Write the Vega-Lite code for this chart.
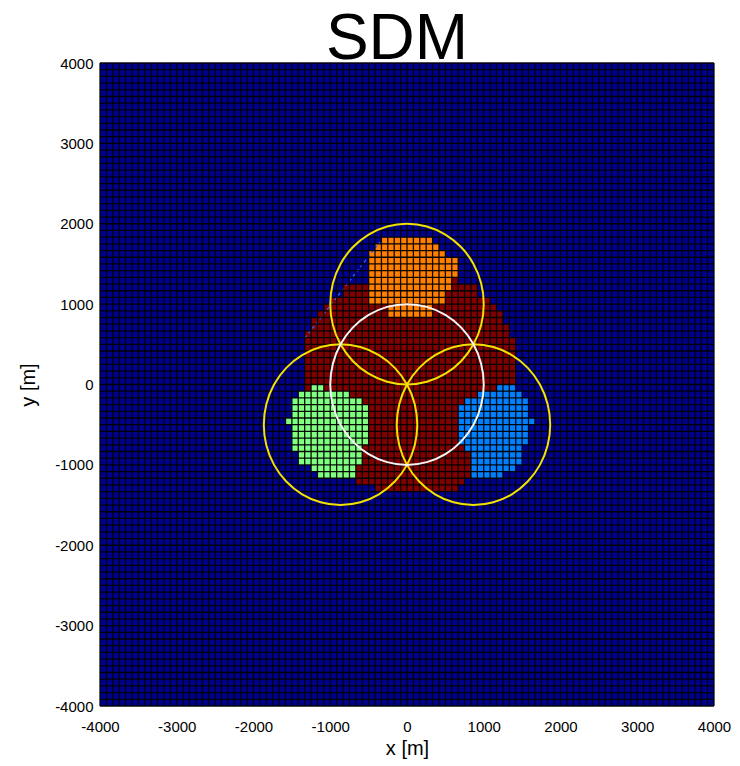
{
  "$schema": "https://vega.github.io/schema/vega-lite/v6.json",
  "width": 614,
  "height": 643,
  "autosize": {"type": "none"},
  "padding": {"left": 100, "top": 63, "right": 26, "bottom": 60},
  "background": "#ffffff",
  "title": {"text": "SDM", "fontSize": 64, "font": "Liberation Sans", "fontWeight": "normal", "color": "#000000", "anchor": "middle", "frame": "group", "offset": -16, "dx": -10},
  "config": {
    "view": {"fill": "#00008f", "stroke": null},
    "font": "Liberation Sans",
    "axisX": {
      "tickCount": 8, "labelExpr": "'' + datum.value",
      "grid": false, "ticks": false, "domain": false,
      "labelOverlap": false, "labelFlush": false,
      "labelFont": "Liberation Sans", "labelFontSize": 15, "labelColor": "#000000", "labelPadding": 13,
      "titleFont": "Liberation Sans", "titleFontSize": 20, "titleFontWeight": "normal", "titleColor": "#000000", "titlePadding": 4
    },
    "axisY": {
      "tickCount": 8, "labelExpr": "'' + datum.value",
      "grid": false, "ticks": false, "domain": false,
      "labelOverlap": false, "labelFlush": false,
      "labelFont": "Liberation Sans", "labelFontSize": 15, "labelColor": "#000000", "labelPadding": 7,
      "titleFont": "Liberation Sans", "titleFontSize": 20, "titleFontWeight": "normal", "titleColor": "#000000", "titlePadding": 16
    }
  },
  "datasets": {
    "edges": [
      {"v":-4000},{"v":-3916.67},{"v":-3833.33},{"v":-3750},{"v":-3666.67},{"v":-3583.33},{"v":-3500},{"v":-3416.67},{"v":-3333.33},{"v":-3250},{"v":-3166.67},{"v":-3083.33},{"v":-3000},{"v":-2916.67},{"v":-2833.33},{"v":-2750},{"v":-2666.67},{"v":-2583.33},{"v":-2500},{"v":-2416.67},{"v":-2333.33},{"v":-2250},{"v":-2166.67},{"v":-2083.33},{"v":-2000},{"v":-1916.67},{"v":-1833.33},{"v":-1750},{"v":-1666.67},{"v":-1583.33},{"v":-1500},{"v":-1416.67},{"v":-1333.33},{"v":-1250},{"v":-1166.67},{"v":-1083.33},{"v":-1000},{"v":-916.67},{"v":-833.33},{"v":-750},{"v":-666.67},{"v":-583.33},{"v":-500},{"v":-416.67},{"v":-333.33},{"v":-250},{"v":-166.67},{"v":-83.33},{"v":0},{"v":83.33},{"v":166.67},{"v":250},{"v":333.33},{"v":416.67},{"v":500},{"v":583.33},{"v":666.67},{"v":750},{"v":833.33},{"v":916.67},{"v":1000},{"v":1083.33},{"v":1166.67},{"v":1250},{"v":1333.33},{"v":1416.67},{"v":1500},{"v":1583.33},{"v":1666.67},{"v":1750},{"v":1833.33},{"v":1916.67},{"v":2000},{"v":2083.33},{"v":2166.67},{"v":2250},{"v":2333.33},{"v":2416.67},{"v":2500},{"v":2583.33},{"v":2666.67},{"v":2750},{"v":2833.33},{"v":2916.67},{"v":3000},{"v":3083.33},{"v":3166.67},{"v":3250},{"v":3333.33},{"v":3416.67},{"v":3500},{"v":3583.33},{"v":3666.67},{"v":3750},{"v":3833.33},{"v":3916.67},{"v":4000}
    ],
    "cells": [
      {"c":"core","x":-500,"x2":666.67,"y":1250,"y2":1333.33},
      {"c":"core","x":-833.33,"x2":916.67,"y":1083.33,"y2":1250},
      {"c":"core","x":-1000,"x2":1083.33,"y":1000,"y2":1083.33},
      {"c":"core","x":-1083.33,"x2":1166.67,"y":916.67,"y2":1000},
      {"c":"core","x":-1166.67,"x2":1250,"y":833.33,"y2":916.67},
      {"c":"core","x":-1250,"x2":1250,"y":750,"y2":833.33},
      {"c":"core","x":-1250,"x2":1333.33,"y":666.67,"y2":750},
      {"c":"core","x":-1333.33,"x2":1333.33,"y":583.33,"y2":666.67},
      {"c":"core","x":-1333.33,"x2":1416.67,"y":-750,"y2":583.33},
      {"c":"core","x":-1333.33,"x2":916.67,"y":-1000,"y2":-750},
      {"c":"core","x":-1250,"x2":916.67,"y":-1083.33,"y2":-1000},
      {"c":"core","x":-1166.67,"x2":916.67,"y":-1166.67,"y2":-1083.33},
      {"c":"core","x":-666.67,"x2":750,"y":-1250,"y2":-1166.67},
      {"c":"core","x":-416.67,"x2":666.67,"y":-1333.33,"y2":-1250},
      {"c":"n","x":-333.33,"x2":333.33,"y":1750,"y2":1833.33},
      {"c":"n","x":-416.67,"x2":416.67,"y":1666.67,"y2":1750},
      {"c":"n","x":-500,"x2":500,"y":1583.33,"y2":1666.67},
      {"c":"n","x":-500,"x2":666.67,"y":1333.33,"y2":1583.33},
      {"c":"n","x":-500,"x2":583.33,"y":1166.67,"y2":1333.33},
      {"c":"n","x":-500,"x2":500,"y":1000,"y2":1166.67},
      {"c":"n","x":-250,"x2":333.33,"y":833.33,"y2":1000},
      {"c":"sw","x":-1250,"x2":-1083.33,"y":-83.33,"y2":0},
      {"c":"sw","x":-1416.67,"x2":-750,"y":-166.67,"y2":-83.33},
      {"c":"sw","x":-1500,"x2":-583.33,"y":-250,"y2":-166.67},
      {"c":"sw","x":-1500,"x2":-500,"y":-416.67,"y2":-250},
      {"c":"sw","x":-1583.33,"x2":-500,"y":-500,"y2":-416.67},
      {"c":"sw","x":-1500,"x2":-500,"y":-750,"y2":-500},
      {"c":"sw","x":-1500,"x2":-583.33,"y":-833.33,"y2":-750},
      {"c":"sw","x":-1416.67,"x2":-583.33,"y":-1000,"y2":-833.33},
      {"c":"sw","x":-1250,"x2":-666.67,"y":-1083.33,"y2":-1000},
      {"c":"sw","x":-1166.67,"x2":-666.67,"y":-1166.67,"y2":-1083.33},
      {"c":"se","x":1166.67,"x2":1416.67,"y":-83.33,"y2":0},
      {"c":"se","x":916.67,"x2":1500,"y":-166.67,"y2":-83.33},
      {"c":"se","x":750,"x2":1583.33,"y":-250,"y2":-166.67},
      {"c":"se","x":666.67,"x2":1583.33,"y":-416.67,"y2":-250},
      {"c":"se","x":666.67,"x2":1666.67,"y":-500,"y2":-416.67},
      {"c":"se","x":666.67,"x2":1583.33,"y":-750,"y2":-500},
      {"c":"se","x":750,"x2":1500,"y":-833.33,"y2":-750},
      {"c":"se","x":833.33,"x2":1500,"y":-1000,"y2":-833.33},
      {"c":"se","x":833.33,"x2":1416.67,"y":-1083.33,"y2":-1000},
      {"c":"se","x":833.33,"x2":1250,"y":-1166.67,"y2":-1083.33}
    ],
    "trace": [
      {"k":0,"x":-1329,"y":579},
      {"k":1,"x":-352,"y":1773}
    ],
    "rings": [
      {"id":"A","kind":"zone","k":0,"x":1000,"y":1000},
      {"id":"A","kind":"zone","k":1,"x":965.9,"y":1258.8},
      {"id":"A","kind":"zone","k":2,"x":866,"y":1500},
      {"id":"A","kind":"zone","k":3,"x":707.1,"y":1707.1},
      {"id":"A","kind":"zone","k":4,"x":500,"y":1866},
      {"id":"A","kind":"zone","k":5,"x":258.8,"y":1965.9},
      {"id":"A","kind":"zone","k":6,"x":0,"y":2000},
      {"id":"A","kind":"zone","k":7,"x":-258.8,"y":1965.9},
      {"id":"A","kind":"zone","k":8,"x":-500,"y":1866},
      {"id":"A","kind":"zone","k":9,"x":-707.1,"y":1707.1},
      {"id":"A","kind":"zone","k":10,"x":-866,"y":1500},
      {"id":"A","kind":"zone","k":11,"x":-965.9,"y":1258.8},
      {"id":"A","kind":"zone","k":12,"x":-1000,"y":1000},
      {"id":"A","kind":"zone","k":13,"x":-965.9,"y":741.2},
      {"id":"A","kind":"zone","k":14,"x":-866,"y":500},
      {"id":"A","kind":"zone","k":15,"x":-707.1,"y":292.9},
      {"id":"A","kind":"zone","k":16,"x":-500,"y":134},
      {"id":"A","kind":"zone","k":17,"x":-258.8,"y":34.1},
      {"id":"A","kind":"zone","k":18,"x":0,"y":0},
      {"id":"A","kind":"zone","k":19,"x":258.8,"y":34.1},
      {"id":"A","kind":"zone","k":20,"x":500,"y":134},
      {"id":"A","kind":"zone","k":21,"x":707.1,"y":292.9},
      {"id":"A","kind":"zone","k":22,"x":866,"y":500},
      {"id":"A","kind":"zone","k":23,"x":965.9,"y":741.2},
      {"id":"B","kind":"zone","k":0,"x":134,"y":-500},
      {"id":"B","kind":"zone","k":1,"x":99.9,"y":-241.2},
      {"id":"B","kind":"zone","k":2,"x":0,"y":0},
      {"id":"B","kind":"zone","k":3,"x":-158.9,"y":207.1},
      {"id":"B","kind":"zone","k":4,"x":-366,"y":366},
      {"id":"B","kind":"zone","k":5,"x":-607.2,"y":465.9},
      {"id":"B","kind":"zone","k":6,"x":-866,"y":500},
      {"id":"B","kind":"zone","k":7,"x":-1124.8,"y":465.9},
      {"id":"B","kind":"zone","k":8,"x":-1366,"y":366},
      {"id":"B","kind":"zone","k":9,"x":-1573.1,"y":207.1},
      {"id":"B","kind":"zone","k":10,"x":-1732,"y":0},
      {"id":"B","kind":"zone","k":11,"x":-1831.9,"y":-241.2},
      {"id":"B","kind":"zone","k":12,"x":-1866,"y":-500},
      {"id":"B","kind":"zone","k":13,"x":-1831.9,"y":-758.8},
      {"id":"B","kind":"zone","k":14,"x":-1732,"y":-1000},
      {"id":"B","kind":"zone","k":15,"x":-1573.1,"y":-1207.1},
      {"id":"B","kind":"zone","k":16,"x":-1366,"y":-1366},
      {"id":"B","kind":"zone","k":17,"x":-1124.8,"y":-1465.9},
      {"id":"B","kind":"zone","k":18,"x":-866,"y":-1500},
      {"id":"B","kind":"zone","k":19,"x":-607.2,"y":-1465.9},
      {"id":"B","kind":"zone","k":20,"x":-366,"y":-1366},
      {"id":"B","kind":"zone","k":21,"x":-158.9,"y":-1207.1},
      {"id":"B","kind":"zone","k":22,"x":0,"y":-1000},
      {"id":"B","kind":"zone","k":23,"x":99.9,"y":-758.8},
      {"id":"C","kind":"zone","k":0,"x":1866,"y":-500},
      {"id":"C","kind":"zone","k":1,"x":1831.9,"y":-241.2},
      {"id":"C","kind":"zone","k":2,"x":1732,"y":0},
      {"id":"C","kind":"zone","k":3,"x":1573.1,"y":207.1},
      {"id":"C","kind":"zone","k":4,"x":1366,"y":366},
      {"id":"C","kind":"zone","k":5,"x":1124.8,"y":465.9},
      {"id":"C","kind":"zone","k":6,"x":866,"y":500},
      {"id":"C","kind":"zone","k":7,"x":607.2,"y":465.9},
      {"id":"C","kind":"zone","k":8,"x":366,"y":366},
      {"id":"C","kind":"zone","k":9,"x":158.9,"y":207.1},
      {"id":"C","kind":"zone","k":10,"x":0,"y":0},
      {"id":"C","kind":"zone","k":11,"x":-99.9,"y":-241.2},
      {"id":"C","kind":"zone","k":12,"x":-134,"y":-500},
      {"id":"C","kind":"zone","k":13,"x":-99.9,"y":-758.8},
      {"id":"C","kind":"zone","k":14,"x":0,"y":-1000},
      {"id":"C","kind":"zone","k":15,"x":158.9,"y":-1207.1},
      {"id":"C","kind":"zone","k":16,"x":366,"y":-1366},
      {"id":"C","kind":"zone","k":17,"x":607.2,"y":-1465.9},
      {"id":"C","kind":"zone","k":18,"x":866,"y":-1500},
      {"id":"C","kind":"zone","k":19,"x":1124.8,"y":-1465.9},
      {"id":"C","kind":"zone","k":20,"x":1366,"y":-1366},
      {"id":"C","kind":"zone","k":21,"x":1573.1,"y":-1207.1},
      {"id":"C","kind":"zone","k":22,"x":1732,"y":-1000},
      {"id":"C","kind":"zone","k":23,"x":1831.9,"y":-758.8},
      {"id":"D","kind":"centre","k":0,"x":1000,"y":0},
      {"id":"D","kind":"centre","k":1,"x":965.9,"y":258.8},
      {"id":"D","kind":"centre","k":2,"x":866,"y":500},
      {"id":"D","kind":"centre","k":3,"x":707.1,"y":707.1},
      {"id":"D","kind":"centre","k":4,"x":500,"y":866},
      {"id":"D","kind":"centre","k":5,"x":258.8,"y":965.9},
      {"id":"D","kind":"centre","k":6,"x":0,"y":1000},
      {"id":"D","kind":"centre","k":7,"x":-258.8,"y":965.9},
      {"id":"D","kind":"centre","k":8,"x":-500,"y":866},
      {"id":"D","kind":"centre","k":9,"x":-707.1,"y":707.1},
      {"id":"D","kind":"centre","k":10,"x":-866,"y":500},
      {"id":"D","kind":"centre","k":11,"x":-965.9,"y":258.8},
      {"id":"D","kind":"centre","k":12,"x":-1000,"y":0},
      {"id":"D","kind":"centre","k":13,"x":-965.9,"y":-258.8},
      {"id":"D","kind":"centre","k":14,"x":-866,"y":-500},
      {"id":"D","kind":"centre","k":15,"x":-707.1,"y":-707.1},
      {"id":"D","kind":"centre","k":16,"x":-500,"y":-866},
      {"id":"D","kind":"centre","k":17,"x":-258.8,"y":-965.9},
      {"id":"D","kind":"centre","k":18,"x":0,"y":-1000},
      {"id":"D","kind":"centre","k":19,"x":258.8,"y":-965.9},
      {"id":"D","kind":"centre","k":20,"x":500,"y":-866},
      {"id":"D","kind":"centre","k":21,"x":707.1,"y":-707.1},
      {"id":"D","kind":"centre","k":22,"x":866,"y":-500},
      {"id":"D","kind":"centre","k":23,"x":965.9,"y":-258.8}
    ]
  },
  "layer": [
    {
      "data": {"name": "cells"},
      "mark": {"type": "rect", "strokeWidth": 0},
      "encoding": {
        "x": {"field": "x", "type": "quantitative", "title": "x [m]", "scale": {"domain": [-4000, 4000], "nice": false, "zero": false}},
        "y": {"field": "y", "type": "quantitative", "title": "y [m]", "scale": {"domain": [-4000, 4000], "nice": false, "zero": false}},
        "x2": {"field": "x2"},
        "y2": {"field": "y2"},
        "color": {"field": "c", "type": "nominal", "scale": {"domain": ["core", "n", "sw", "se"], "range": ["#800000", "#ff8000", "#80ff80", "#0080ff"]}, "legend": null}
      }
    },
    {
      "data": {"name": "trace"},
      "mark": {"type": "line", "color": "#2a6cf5", "strokeWidth": 1.3, "strokeDash": [3, 3]},
      "encoding": {
        "x": {"field": "x", "type": "quantitative", "title": "x [m]"},
        "y": {"field": "y", "type": "quantitative", "title": "y [m]"},
        "order": {"field": "k", "type": "quantitative"}
      }
    },
    {
      "data": {"name": "edges"},
      "mark": {"type": "rule", "color": "#000000", "strokeWidth": 1.3, "opacity": 0.95},
      "encoding": {
        "x": {"field": "v", "type": "quantitative", "title": "x [m]"}
      }
    },
    {
      "data": {"name": "edges"},
      "mark": {"type": "rule", "color": "#000000", "strokeWidth": 1.3, "opacity": 0.95},
      "encoding": {
        "y": {"field": "v", "type": "quantitative", "title": "y [m]"}
      }
    },
    {
      "data": {"name": "rings"},
      "mark": {"type": "line", "interpolate": "cardinal-closed", "strokeWidth": 2},
      "encoding": {
        "x": {"field": "x", "type": "quantitative", "title": "x [m]"},
        "y": {"field": "y", "type": "quantitative", "title": "y [m]"},
        "detail": {"field": "id", "type": "nominal"},
        "order": {"field": "k", "type": "quantitative"},
        "stroke": {"field": "kind", "type": "nominal", "scale": {"domain": ["zone", "centre"], "range": ["#f2e200", "#f4f4f4"]}, "legend": null}
      }
    }
  ]
}
